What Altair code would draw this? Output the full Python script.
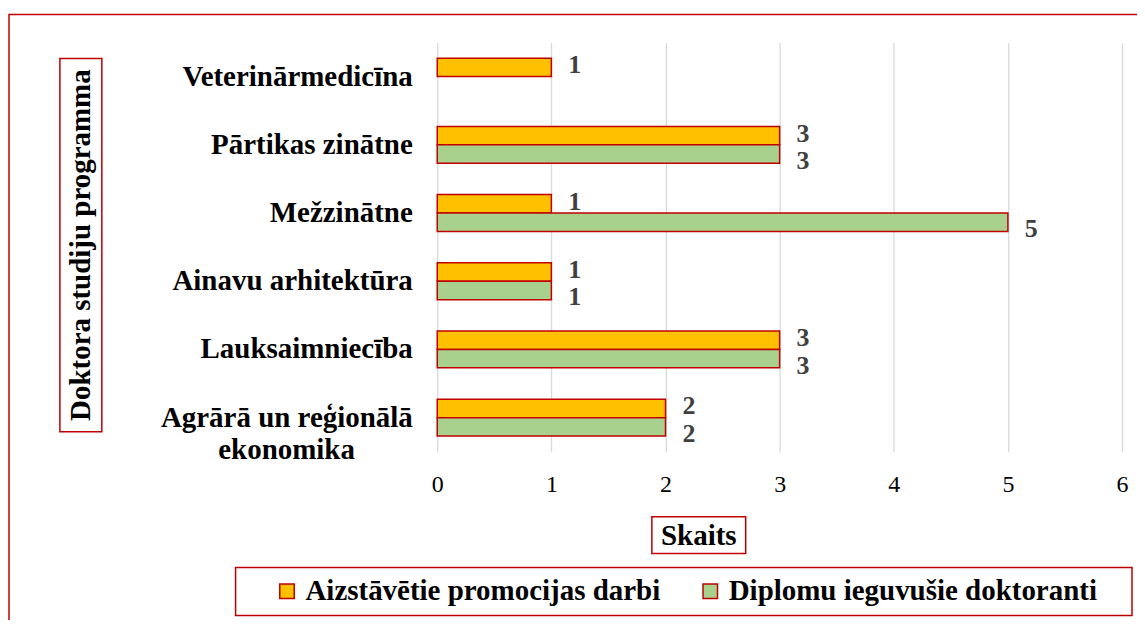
import altair as alt
import pandas as pd

# ---- data ----
categories = [
    "Veterinārmedicīna",
    "Pārtikas zinātne",
    "Mežzinātne",
    "Ainavu arhitektūra",
    "Lauksaimniecība",
    "Agrārā un reģionālā ekonomika",
]
series = ["Aizstāvētie promocijas darbi", "Diplomu ieguvušie doktoranti"]
aizstavetie = [1, 3, 1, 1, 3, 2]
diplomu = [None, 3, 5, 1, 3, 2]
x_ticks = [0, 1, 2, 3, 4, 5, 6]
y_title = "Doktora studiju programma"
x_title = "Skaits"

rows = []
for cat, a, d in zip(categories, aizstavetie, diplomu):
    if a is not None:
        rows.append({"program": cat, "series": series[0], "value": a})
    if d is not None:
        rows.append({"program": cat, "series": series[1], "value": d})
df = pd.DataFrame(rows)

FONT = "'Liberation Serif', 'Times New Roman', 'DejaVu Serif', serif"
RED = "#C00000"
YELLOW = "#FFC000"
GREEN = "#A9D18E"

# second line of the two-line label is centred under the first one
pad = "\u00a0" * 8 + "\u200b"
label_expr = (
    "datum.label == 'Agrārā un reģionālā ekonomika' ? "
    "['Agrārā un reģionālā', 'ekonomika" + pad + "'] : datum.label"
)

y_enc = alt.Y(
    "program:N",
    sort=categories,
    scale=alt.Scale(domain=categories, paddingInner=0.46, paddingOuter=0.23),
    axis=alt.Axis(
        title=None, domain=False, ticks=False, grid=False,
        labelFont=FONT, labelFontSize=29, labelFontWeight="bold",
        labelColor="#000000", labelPadding=25, labelLimit=400,
        labelLineHeight=32, labelExpr=label_expr,
    ),
)
yoff_enc = alt.YOffset(
    "series:N", sort=series,
    scale=alt.Scale(domain=series, paddingInner=0, paddingOuter=0),
)
x_enc = alt.X(
    "value:Q",
    scale=alt.Scale(domain=[0, 6]),
    axis=alt.Axis(
        title=None, values=x_ticks, format="d", domain=False, ticks=False,
        grid=True, gridColor="#D9D9D9", gridWidth=1.3,
        labelFont=FONT, labelFontSize=24, labelColor="#000000",
        labelPadding=21, labelFlush=False, labelOverlap=False,
    ),
)

base = alt.Chart(df)

bars = base.mark_bar(stroke=RED, strokeWidth=1.5).encode(
    y=y_enc,
    yOffset=yoff_enc,
    x=x_enc,
    color=alt.Color(
        "series:N",
        sort=series,
        scale=alt.Scale(domain=series, range=[YELLOW, GREEN]),
        legend=alt.Legend(
            orient="none", legendX=-165, legendY=535, direction="horizontal",
            title=None, symbolType="square", symbolSize=210,
            symbolStrokeColor=RED, symbolStrokeWidth=1.5,
            labelFont=FONT, labelFontSize=29, labelFontWeight="bold",
            labelColor="#000000", labelOffset=4, columnPadding=35,
            labelLimit=600,
        ),
    ),
)

txt_props = dict(align="left", baseline="middle", dx=17, font=FONT,
                 fontSize=26, fontWeight="bold", color="#404040")

labels_a = base.transform_filter(alt.datum.series == series[0]).mark_text(
    dy=-2, **txt_props
).encode(y=y_enc, yOffset=yoff_enc, x=x_enc, text=alt.Text("value:Q"))

labels_d = base.transform_filter(alt.datum.series == series[1]).mark_text(
    dy=7, **txt_props
).encode(y=y_enc, yOffset=yoff_enc, x=x_enc, text=alt.Text("value:Q"))

dummy = alt.Chart(pd.DataFrame({"k": [0]}))

def frame(x1, x2, y1, y2):
    return dummy.mark_rect(fillOpacity=0, stroke=RED, strokeWidth=1.5).encode(
        x=alt.value(x1), x2=alt.value(x2), y=alt.value(y1), y2=alt.value(y2)
    )

outer = frame(-429, 730, -28, 620)
ytitle_box = frame(-378, -336, 16, 390)
xtitle_box = frame(215, 309, 475, 512)
legend_box = frame(-202, 696, 526, 574)

ytitle = dummy.mark_text(
    angle=270, align="center", baseline="middle", font=FONT, fontSize=29,
    fontWeight="bold", color="#000000",
).encode(x=alt.value(-357), y=alt.value(203), text=alt.value(y_title))

xtitle = dummy.mark_text(
    align="center", baseline="middle", font=FONT, fontSize=29,
    fontWeight="bold", color="#000000",
).encode(x=alt.value(262), y=alt.value(494), text=alt.value(x_title))

chart = alt.layer(
    outer, ytitle_box, xtitle_box, legend_box, bars, labels_a, labels_d,
    ytitle, xtitle,
).properties(
    width=686,
    height=410,
    autosize=alt.AutoSizeParams(type="none"),
    padding={"left": 430, "top": 34, "right": 15, "bottom": 168},
    background="#FFFFFF",
).configure_view(stroke=None)

chart.save("out.html", embed_options={"renderer": "svg", "actions": False})
